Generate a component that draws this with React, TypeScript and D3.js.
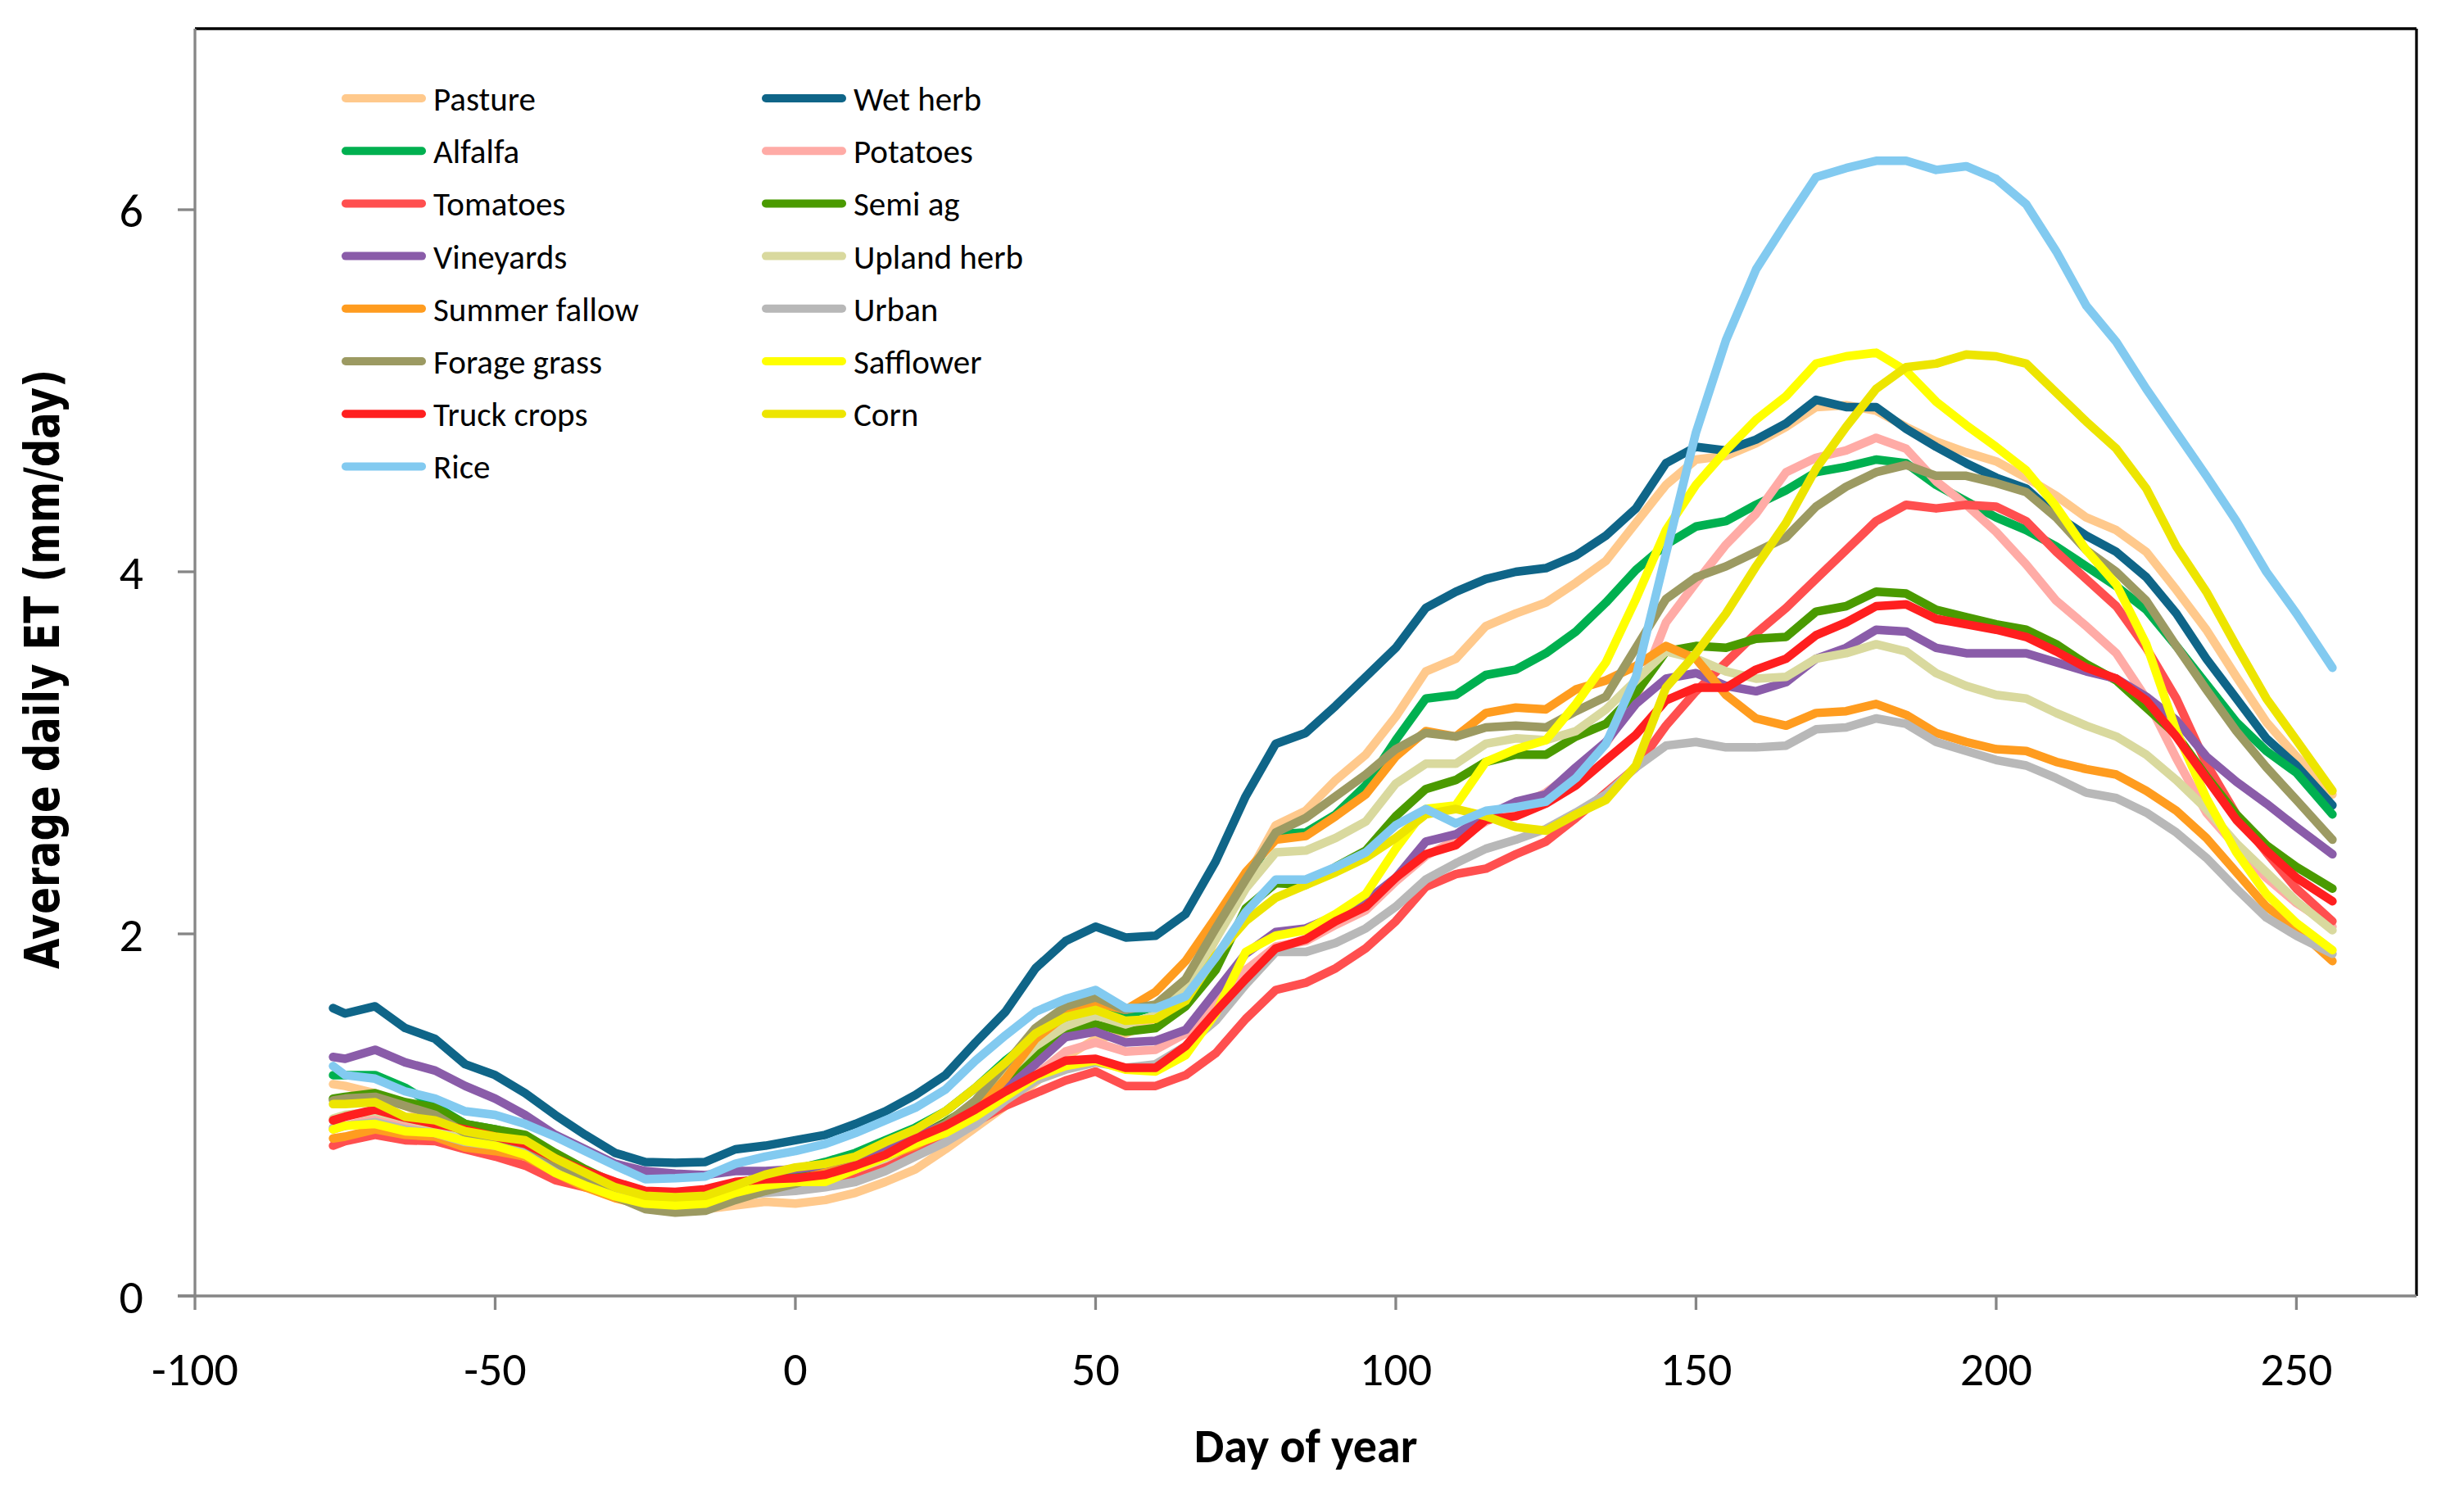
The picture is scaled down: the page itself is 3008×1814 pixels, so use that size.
import * as d3 from "d3";
import React from "react";

// day of year for every sample
const days = [
  -77, -75, -70, -65, -60, -55, -50, -45, -40, -35,
  -30, -25, -20, -15, -10, -5, 0, 5, 10, 15,
  20, 25, 30, 35, 40, 45, 50, 55, 60, 65,
  70, 75, 80, 85, 90, 95, 100, 105, 110, 115,
  120, 125, 130, 135, 140, 145, 150, 155, 160, 165,
  170, 175, 180, 185, 190, 195, 200, 205, 210, 215,
  220, 225, 230, 235, 240, 245, 250, 256,
];

const pasture = [
  1.17, 1.16, 1.12, 1.05, 0.98, 0.89, 0.86, 0.82, 0.73, 0.64,
  0.56, 0.49, 0.47, 0.48, 0.5, 0.52, 0.51, 0.53, 0.57, 0.63,
  0.7, 0.81, 0.93, 1.05, 1.18, 1.32, 1.42, 1.45, 1.52, 1.66,
  1.97, 2.3, 2.6, 2.68, 2.85, 2.99, 3.2, 3.45, 3.52, 3.7,
  3.77, 3.83, 3.94, 4.06, 4.27, 4.48, 4.62, 4.64, 4.71, 4.8,
  4.91, 4.92, 4.89, 4.8, 4.72, 4.66, 4.61, 4.52, 4.42, 4.3,
  4.23, 4.11, 3.9, 3.68, 3.42, 3.17, 2.98, 2.77,
];
const wetHerb = [
  1.59, 1.56, 1.6, 1.48, 1.42, 1.28, 1.22, 1.12, 1.0, 0.89,
  0.79, 0.74, 0.735, 0.74, 0.81, 0.83, 0.86, 0.89, 0.95, 1.02,
  1.11, 1.22, 1.4, 1.57, 1.81, 1.96, 2.04, 1.98, 1.99, 2.11,
  2.4, 2.76, 3.05, 3.11, 3.26, 3.42, 3.58, 3.8, 3.89, 3.96,
  4.0, 4.02, 4.09, 4.2, 4.35, 4.6, 4.69, 4.67, 4.73, 4.82,
  4.95, 4.91, 4.91, 4.79, 4.69, 4.6, 4.52, 4.46, 4.31, 4.2,
  4.11, 3.97, 3.77, 3.52, 3.3, 3.08, 2.93, 2.71,
];
const alfalfa = [
  1.22, 1.22, 1.22, 1.15, 1.05, 0.95, 0.92, 0.88, 0.78, 0.69,
  0.61, 0.56, 0.55, 0.56, 0.62, 0.66, 0.7, 0.74, 0.79, 0.86,
  0.93, 1.02, 1.15, 1.3, 1.43, 1.53, 1.6, 1.55, 1.6, 1.72,
  2.0, 2.3, 2.55, 2.56, 2.66, 2.82, 3.07, 3.3, 3.32, 3.43,
  3.46, 3.55, 3.67, 3.83, 4.01, 4.15, 4.25, 4.28, 4.37, 4.45,
  4.55, 4.58, 4.62, 4.6, 4.48, 4.39, 4.3, 4.23, 4.14, 4.03,
  3.92, 3.79, 3.59, 3.38, 3.17, 3.01, 2.89, 2.66,
];
const potatoes = [
  0.92, 0.94, 0.98, 0.94, 0.91, 0.87, 0.84, 0.8, 0.72, 0.66,
  0.6, 0.56, 0.56, 0.57, 0.61, 0.63, 0.64, 0.66, 0.7, 0.76,
  0.84, 0.91, 0.99, 1.1, 1.22, 1.35, 1.4, 1.35, 1.36, 1.45,
  1.62, 1.8, 1.93, 1.96, 2.05, 2.13, 2.29, 2.43, 2.52, 2.62,
  2.7, 2.78, 2.9, 3.05, 3.3, 3.72, 3.94, 4.15, 4.32, 4.55,
  4.63, 4.67, 4.74, 4.68, 4.5, 4.37, 4.22, 4.04, 3.84, 3.7,
  3.55, 3.3, 2.97, 2.67, 2.48, 2.31, 2.17, 2.04,
];
const tomatoes = [
  0.83, 0.855, 0.89, 0.86, 0.855, 0.81, 0.77, 0.72, 0.64, 0.6,
  0.57, 0.55, 0.55, 0.56, 0.6, 0.62, 0.63, 0.64, 0.67, 0.73,
  0.8, 0.88, 0.96, 1.05, 1.12, 1.19, 1.24, 1.16, 1.16, 1.22,
  1.34, 1.53, 1.69, 1.73, 1.81, 1.92, 2.07, 2.26, 2.33, 2.36,
  2.44, 2.51, 2.64, 2.78, 2.92, 3.15, 3.34, 3.5, 3.66, 3.8,
  3.96, 4.12, 4.28, 4.37, 4.35, 4.37, 4.36, 4.28, 4.11, 3.96,
  3.81, 3.58, 3.3, 2.94, 2.66, 2.45, 2.25, 2.07,
];
const semiAg = [
  1.09, 1.1, 1.12, 1.07, 1.04, 0.95, 0.92, 0.89, 0.79, 0.7,
  0.62, 0.56, 0.53, 0.53, 0.58, 0.62, 0.66, 0.7, 0.74, 0.8,
  0.87, 0.96, 1.06, 1.17, 1.33, 1.47, 1.5, 1.46, 1.48, 1.6,
  1.8, 2.14, 2.28, 2.27, 2.37, 2.46, 2.65, 2.8, 2.85, 2.95,
  2.99, 2.99, 3.09, 3.16, 3.33, 3.56, 3.59, 3.58, 3.63, 3.64,
  3.78, 3.81, 3.89, 3.88, 3.79, 3.75, 3.71, 3.68, 3.6, 3.49,
  3.4, 3.25, 3.1, 2.87, 2.66, 2.49, 2.37, 2.25,
];
const vineyards = [
  1.32, 1.31, 1.36, 1.29, 1.245, 1.16, 1.09, 1.0, 0.89, 0.81,
  0.73, 0.69, 0.675, 0.668, 0.69, 0.69, 0.7, 0.72, 0.76, 0.82,
  0.88, 0.95, 1.04, 1.14, 1.28, 1.43, 1.46, 1.4, 1.41, 1.47,
  1.68, 1.89, 2.01, 2.03, 2.1, 2.18, 2.31, 2.51, 2.55, 2.65,
  2.73, 2.77, 2.92, 3.06, 3.27, 3.41, 3.44, 3.37, 3.34, 3.39,
  3.52, 3.58, 3.68, 3.67, 3.58, 3.55, 3.55, 3.55, 3.5, 3.45,
  3.41, 3.31, 3.18, 2.98, 2.84, 2.72, 2.59, 2.44,
];
const uplandHerb = [
  0.98, 1.0, 1.02, 0.98, 0.94, 0.86, 0.84, 0.81, 0.72, 0.63,
  0.56, 0.5, 0.49, 0.5, 0.56, 0.6, 0.63, 0.66, 0.7, 0.76,
  0.84, 0.93, 1.05, 1.22, 1.38, 1.49, 1.55, 1.5, 1.55, 1.7,
  1.97, 2.25, 2.45, 2.46, 2.53, 2.62, 2.83, 2.94, 2.94, 3.05,
  3.08, 3.07, 3.12, 3.24, 3.4, 3.56, 3.52, 3.45, 3.41, 3.42,
  3.52, 3.55, 3.6, 3.56, 3.44, 3.37, 3.32, 3.3, 3.22, 3.15,
  3.09, 2.99, 2.85, 2.69, 2.5, 2.34, 2.18, 2.02,
];
const summerFallow = [
  0.87, 0.88, 0.92, 0.89, 0.88, 0.82, 0.8, 0.77, 0.68, 0.6,
  0.54, 0.5, 0.49, 0.5, 0.56, 0.6, 0.64, 0.68, 0.72, 0.77,
  0.83, 0.92, 1.02, 1.2, 1.42, 1.55, 1.62, 1.58, 1.68, 1.85,
  2.09, 2.34, 2.52, 2.54, 2.65, 2.77, 2.98, 3.12, 3.09, 3.22,
  3.25, 3.24, 3.35, 3.4, 3.48, 3.59, 3.52, 3.32, 3.19, 3.15,
  3.22, 3.23, 3.27, 3.21, 3.11, 3.06, 3.02, 3.01, 2.95, 2.91,
  2.88, 2.79, 2.68, 2.53, 2.34, 2.15, 2.03, 1.85,
];
const urban = [
  0.93, 0.94, 0.96, 0.92, 0.9, 0.85, 0.83, 0.8, 0.71, 0.63,
  0.56, 0.51, 0.5, 0.53, 0.55, 0.57, 0.58, 0.6, 0.63, 0.69,
  0.77, 0.85, 0.95, 1.08, 1.19, 1.25, 1.29, 1.26, 1.28, 1.38,
  1.52, 1.72, 1.9, 1.9, 1.95, 2.03, 2.15, 2.3, 2.39, 2.47,
  2.52, 2.58, 2.67, 2.77, 2.92, 3.04, 3.06, 3.03, 3.03, 3.04,
  3.13, 3.14, 3.19, 3.16, 3.06, 3.01, 2.96, 2.93, 2.86, 2.78,
  2.75, 2.67, 2.56, 2.42, 2.25, 2.09, 1.99, 1.89,
];
const forageGrass = [
  1.08, 1.09, 1.1, 1.05, 1.0, 0.9, 0.87, 0.84, 0.74, 0.64,
  0.55, 0.48, 0.46, 0.47, 0.53, 0.58, 0.62, 0.67, 0.72, 0.78,
  0.86, 0.95, 1.08, 1.28, 1.48, 1.6, 1.65, 1.58, 1.61, 1.75,
  2.03, 2.3, 2.56, 2.64, 2.76, 2.88, 3.02, 3.11, 3.09, 3.14,
  3.15, 3.14, 3.23, 3.31, 3.58, 3.85, 3.97, 4.03, 4.11, 4.19,
  4.36, 4.47, 4.55, 4.59, 4.53, 4.53, 4.49, 4.44, 4.3, 4.12,
  4.0, 3.84, 3.59, 3.35, 3.12, 2.92, 2.74, 2.52,
];
const safflower = [
  0.92, 0.94, 0.95, 0.91, 0.9, 0.855, 0.83, 0.78, 0.68, 0.61,
  0.55, 0.51, 0.5, 0.51, 0.57, 0.61, 0.63, 0.63, 0.7, 0.77,
  0.84, 0.9, 0.99, 1.1, 1.21, 1.27, 1.3, 1.25, 1.24, 1.33,
  1.56, 1.9, 1.99, 2.02, 2.11, 2.22, 2.47, 2.69, 2.71, 2.95,
  3.02, 3.07, 3.27, 3.5, 3.85, 4.23, 4.48, 4.67, 4.84, 4.97,
  5.15, 5.19, 5.21, 5.11, 4.94, 4.81, 4.69, 4.56, 4.36, 4.12,
  3.93, 3.6, 3.12, 2.75, 2.45, 2.22, 2.06, 1.91,
];
const truckCrops = [
  0.97, 0.99, 1.03, 0.985, 0.95, 0.92, 0.88, 0.84, 0.76, 0.69,
  0.63, 0.58, 0.575, 0.59, 0.63, 0.645, 0.65, 0.67, 0.72, 0.78,
  0.87, 0.94, 1.03, 1.13, 1.22, 1.3, 1.31, 1.26, 1.26, 1.38,
  1.57, 1.75, 1.92, 1.97, 2.07, 2.15, 2.31, 2.44, 2.49, 2.63,
  2.65, 2.72, 2.82, 2.96, 3.1, 3.29, 3.36, 3.36, 3.46, 3.52,
  3.65, 3.72, 3.81, 3.82, 3.74, 3.71, 3.68, 3.64, 3.56, 3.47,
  3.41, 3.29, 3.09, 2.86, 2.63, 2.46, 2.31, 2.18,
];
const corn = [
  1.06, 1.06, 1.07, 0.99, 0.97, 0.91, 0.88, 0.86, 0.76, 0.68,
  0.6, 0.553, 0.545, 0.553, 0.61, 0.67, 0.71, 0.73, 0.77, 0.85,
  0.92, 1.02, 1.15, 1.29, 1.45, 1.54, 1.58, 1.52, 1.53, 1.63,
  1.88, 2.07, 2.2, 2.27, 2.34, 2.42, 2.53, 2.66, 2.69, 2.65,
  2.59, 2.57, 2.66, 2.74, 2.93, 3.36, 3.55, 3.77, 4.03, 4.27,
  4.57, 4.8, 5.01, 5.13, 5.15, 5.2, 5.19, 5.15, 4.99, 4.83,
  4.68, 4.46, 4.14, 3.89, 3.59, 3.3, 3.07, 2.79,
];
const rice = [
  1.27, 1.22, 1.2, 1.13, 1.09, 1.02, 1.0, 0.95, 0.88, 0.8,
  0.72, 0.645, 0.65, 0.66, 0.73, 0.77, 0.8, 0.84, 0.9, 0.97,
  1.04, 1.14, 1.3, 1.44, 1.57, 1.64, 1.69, 1.59, 1.59, 1.655,
  1.87, 2.12, 2.3, 2.3, 2.37, 2.45, 2.6, 2.69, 2.61, 2.68,
  2.7, 2.73, 2.86, 3.05, 3.42, 4.1, 4.77, 5.28, 5.67, 5.93,
  6.18, 6.23, 6.27, 6.27, 6.22, 6.24, 6.17, 6.03, 5.77, 5.47,
  5.27, 5.01, 4.77, 4.53, 4.28, 4.0, 3.77, 3.47,
];

// legend is filled row by row, two columns
const seriesNames = [
  "Pasture", "Wet herb", "Alfalfa", "Potatoes", "Tomatoes", "Semi ag",
  "Vineyards", "Upland herb", "Summer fallow", "Urban", "Forage grass",
  "Safflower", "Truck crops", "Corn", "Rice",
];
const seriesValues = [
  pasture, wetHerb, alfalfa, potatoes, tomatoes, semiAg, vineyards,
  uplandHerb, summerFallow, urban, forageGrass, safflower, truckCrops,
  corn, rice,
];
const seriesColors = [
  "#FFC98C", "#0F6588", "#00B050", "#FFABA6", "#FF4F4F", "#4A9A00",
  "#8A5CA9", "#D9D99E", "#FF9C1F", "#B8B8B8", "#9C9A62", "#FFFF00",
  "#FF1F1F", "#EDE500", "#82CAF0",
];

const xTicks = [-100, -50, 0, 50, 100, 150, 200, 250];
const yTicks = [0, 2, 4, 6];

const W = 3008;
const H = 1814;
const left = 238;
const right = 2950;
const top = 35;
const bottom = 1582;

const App = () => {
  const x = d3.scaleLinear().domain([-100, 270]).range([left, right]);
  const y = d3.scaleLinear().domain([0, 7]).range([bottom, top]);

  const line = d3
    .line<number>()
    .x((_, i) => x(days[i]))
    .y((d) => y(d));

  const axisColor = "#868686";
  const tickFont = "Calibri, Carlito, Lato, sans-serif";

  return (
    <div style={{ position: "absolute", left: 0, top: 0 }}>
      <svg width={W} height={H} style={{ display: "block", background: "#fff" }}>
        {/* plot area border (top / right) */}
        <line x1={left} y1={top} x2={right} y2={top} stroke="#000" strokeWidth={3.3} />
        <line x1={right} y1={top} x2={right} y2={bottom} stroke="#000" strokeWidth={3.3} />

        {/* series */}
        <g fill="none" strokeLinejoin="round" strokeLinecap="round">
          {seriesValues.map((vals, i) => (
            <path key={seriesNames[i]} d={line(vals) ?? ""} stroke={seriesColors[i]} strokeWidth={10.5} />
          ))}
        </g>

        {/* y axis */}
        <line x1={left} y1={top} x2={left} y2={bottom} stroke={axisColor} strokeWidth={3.3} />
        {yTicks.map((t) => (
          <g key={t}>
            <line x1={left - 21} x2={left} y1={y(t)} y2={y(t)} stroke={axisColor} strokeWidth={3.3} />
            <text x={175} y={y(t)} dy="0.36em" textAnchor="end" fontFamily={tickFont} fontSize={58}>
              {t}
            </text>
          </g>
        ))}

        {/* x axis */}
        <line x1={left - 21} x2={right} y1={bottom} y2={bottom} stroke={axisColor} strokeWidth={3.3} />
        {xTicks.map((t) => (
          <g key={t}>
            <line x1={x(t)} x2={x(t)} y1={bottom} y2={bottom + 17} stroke={axisColor} strokeWidth={3.3} />
            <text x={x(t)} y={1691} textAnchor="middle" fontFamily={tickFont} fontSize={58}>
              {t}
            </text>
          </g>
        ))}

        {/* axis titles */}
        <text x={1594} y={1785} textAnchor="middle" fontFamily={tickFont} fontWeight="bold" fontSize={58}>
          Day of year
        </text>
        <text
          transform="translate(72,817) rotate(-90)"
          textAnchor="middle"
          fontFamily="Verdana, 'DejaVu Sans', sans-serif"
          fontWeight="bold"
          fontSize={58}
          textLength={732}
          lengthAdjust="spacingAndGlyphs"
        >
          Average daily ET (mm/day)
        </text>

        {/* legend */}
        {seriesNames.map((name, i) => {
          const col = i % 2;
          const row = Math.floor(i / 2);
          const lx = col === 0 ? 418 : 931;
          const ly = 120 + row * 64.2;
          return (
            <g key={name}>
              <line x1={lx + 4} x2={lx + 97} y1={ly} y2={ly} stroke={seriesColors[i]} strokeWidth={10} strokeLinecap="round" />
              <text x={lx + 111} y={ly + 15} fontFamily={tickFont} fontSize={41}>
                {name}
              </text>
            </g>
          );
        })}
      </svg>
    </div>
  );
};

export default App;
